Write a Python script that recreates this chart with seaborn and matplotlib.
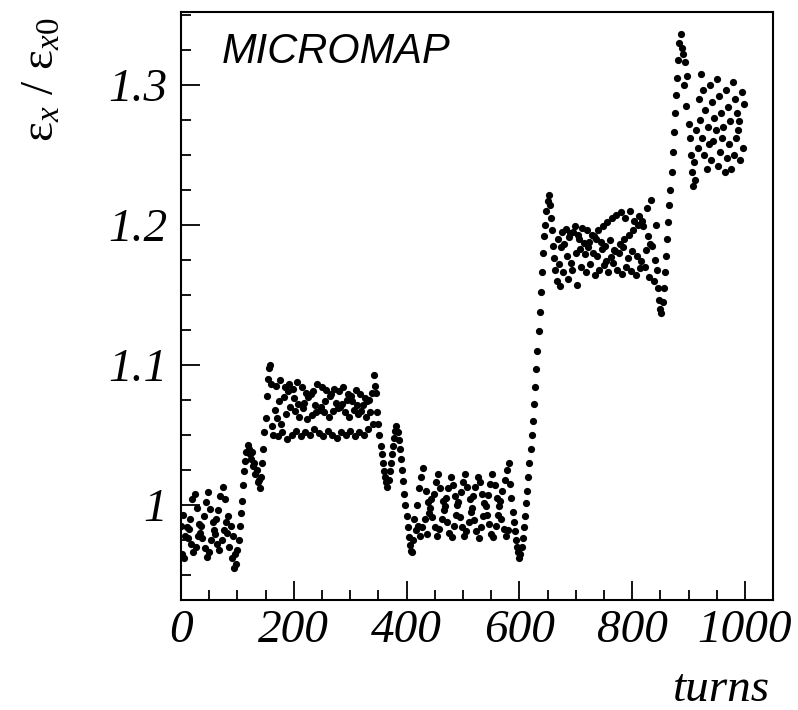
import numpy as np
import pandas as pd
import matplotlib
matplotlib.use("Agg")
import matplotlib.pyplot as plt
import seaborn as sns
from matplotlib.ticker import MultipleLocator, FixedLocator, FuncFormatter

# emittance ratio, one point every 2 turns, split in segments
step = 2
seg_starts = [0, 100, 152, 346, 412, 600, 654, 858]

seg_a = [0.985, 0.965, 0.993, 0.962, 0.978, 0.984, 0.976, 0.983, 0.990, 0.972,
         1.004, 0.966, 1.008, 0.970, 0.998, 0.978, 0.986, 0.980, 0.985, 0.976,
         0.992, 0.969, 1.002, 0.963, 1.009, 0.966, 0.997, 0.975, 0.988, 0.982,
         0.979, 0.990, 0.972, 0.996, 0.968, 1.006, 0.975, 1.013, 0.982, 1.004,
         0.988, 0.980, 0.992, 0.970, 0.985, 0.962, 0.978, 0.955, 0.965, 0.958]

seg_b = [0.968, 0.975, 0.985, 0.994, 1.003, 1.014, 1.024, 1.031, 1.038, 1.043,
         1.040, 1.036, 1.033, 1.038, 1.028, 1.030, 1.022, 1.025, 1.016, 1.018,
         1.012, 1.020, 1.030, 1.040, 1.052, 1.062]

seg_c = [1.078, 1.090, 1.098, 1.100, 1.086, 1.056,
         1.050, 1.068, 1.085, 1.062, 1.049, 1.074, 1.089, 1.058,
         1.052, 1.077, 1.084, 1.065, 1.047, 1.081, 1.086, 1.070,
         1.050, 1.083, 1.076, 1.067, 1.053, 1.088, 1.072, 1.063,
         1.049, 1.084, 1.069, 1.073, 1.052, 1.080, 1.061, 1.077,
         1.050, 1.079, 1.064, 1.081, 1.054, 1.071, 1.066, 1.086,
         1.051, 1.068, 1.070, 1.084, 1.049, 1.066, 1.074, 1.082,
         1.053, 1.063, 1.078, 1.079, 1.050, 1.067, 1.083, 1.073,
         1.048, 1.069, 1.081, 1.070, 1.052, 1.072, 1.084, 1.066,
         1.050, 1.075, 1.079, 1.063, 1.053, 1.078, 1.074, 1.068,
         1.049, 1.082, 1.071, 1.065, 1.052, 1.079, 1.067, 1.071,
         1.050, 1.076, 1.063, 1.074, 1.054, 1.075, 1.066, 1.080,
         1.058, 1.093, 1.085]

seg_d = [1.080, 1.066, 1.058, 1.050, 1.042, 1.036, 1.030, 1.024, 1.020, 1.016,
         1.013, 1.018, 1.024, 1.030, 1.036, 1.042, 1.048, 1.053, 1.056, 1.052,
         1.046, 1.040, 1.033, 1.025, 1.017, 1.008, 1.000, 0.992, 0.984, 0.977,
         0.971, 0.967, 0.966]

seg_e = [0.975, 0.990, 0.982, 1.000, 0.985, 1.012, 0.978, 1.020, 0.984, 1.026,
         0.990, 1.010, 0.979, 1.002, 0.994, 0.998, 1.004, 0.991, 1.008, 0.984,
         1.016, 0.978, 1.022, 0.983, 1.012, 0.990, 1.003, 0.996, 0.999, 1.005,
         0.988, 1.012, 0.980, 1.020, 0.977, 1.014, 0.985, 1.006, 0.993, 1.000,
         1.002, 0.991, 1.009, 0.984, 1.016, 0.978, 1.022, 0.981, 1.013, 0.988,
         1.004, 0.995, 0.998, 1.006, 0.989, 1.013, 0.981, 1.020, 0.976, 1.016,
         0.984, 1.008, 0.992, 1.001, 0.999, 0.993, 1.007, 0.986, 1.015, 0.979,
         1.022, 0.977, 1.014, 0.985, 1.005, 0.993, 0.999, 1.003, 0.990, 1.010,
         0.983, 1.018, 0.978, 1.025, 0.982, 1.030, 1.015, 1.005, 0.995, 0.988,
         0.981, 0.975, 0.970, 0.966]

seg_f = [0.962, 0.965, 0.970, 0.976, 0.984, 0.992, 1.001, 1.010, 1.020, 1.030,
         1.040, 1.050, 1.060, 1.072, 1.084, 1.097, 1.110, 1.124, 1.138, 1.152,
         1.166, 1.180, 1.192, 1.200, 1.210, 1.217, 1.221]

seg_g = [1.214, 1.205, 1.196, 1.185, 1.176, 1.168, 1.160, 1.190, 1.172, 1.156, 1.184, 1.195,
         1.166, 1.186, 1.197, 1.178, 1.161, 1.191, 1.194, 1.173,
         1.168, 1.195, 1.199, 1.180, 1.157, 1.193, 1.190, 1.183,
         1.170, 1.198, 1.187, 1.179, 1.166, 1.196, 1.184, 1.188,
         1.172, 1.193, 1.180, 1.192, 1.164, 1.190, 1.178, 1.196,
         1.168, 1.188, 1.183, 1.199, 1.171, 1.185, 1.174, 1.202,
         1.166, 1.189, 1.177, 1.205, 1.173, 1.182, 1.181, 1.207,
         1.168, 1.180, 1.186, 1.209, 1.165, 1.184, 1.190, 1.205,
         1.170, 1.176, 1.193, 1.210, 1.167, 1.181, 1.196, 1.203,
         1.164, 1.178, 1.200, 1.206, 1.169, 1.174, 1.203, 1.199,
         1.170, 1.182, 1.212, 1.192, 1.163, 1.186, 1.218, 1.185, 1.160, 1.175,
         1.200, 1.168, 1.155, 1.146, 1.140, 1.137, 1.145, 1.155]

seg_h = [1.166, 1.178, 1.190, 1.202, 1.214, 1.225, 1.238, 1.252, 1.266, 1.280,
         1.293, 1.305, 1.318, 1.330, 1.336, 1.326,
         1.322, 1.300, 1.316, 1.285, 1.306, 1.272, 1.262, 1.250, 1.238, 1.228,
         1.245, 1.232, 1.268, 1.255, 1.290, 1.275, 1.308, 1.262, 1.296, 1.250,
         1.282, 1.240, 1.270, 1.258, 1.300, 1.246, 1.288, 1.260, 1.276, 1.268,
         1.304, 1.242, 1.292, 1.252, 1.280, 1.262, 1.270, 1.238, 1.296, 1.248,
         1.284, 1.258, 1.274, 1.240, 1.302, 1.250, 1.290, 1.262, 1.280, 1.268,
         1.274, 1.246, 1.295, 1.255, 1.286]

segments = [seg_a, seg_b, seg_c, seg_d, seg_e, seg_f, seg_g, seg_h]

x_major = [0, 200, 400, 600, 800, 1000]
y_major = [1.0, 1.1, 1.2, 1.3]

frames = []
for start, vals in zip(seg_starts, segments):
    frames.append(pd.DataFrame({"turns": start + step * np.arange(len(vals)),
                                "ratio": vals}))
df = pd.concat(frames, ignore_index=True)

sns.set_style("ticks")
plt.rcParams["font.family"] = ["Liberation Serif", "DejaVu Serif"]
plt.rcParams["mathtext.fontset"] = "custom"
plt.rcParams["mathtext.rm"] = "Liberation Serif"
plt.rcParams["mathtext.it"] = "Liberation Serif:italic"
plt.rcParams["text.color"] = "black"
plt.rcParams["xtick.color"] = "black"
plt.rcParams["ytick.color"] = "black"

fig = plt.figure(figsize=(7.98, 7.10), dpi=100)
ax = fig.add_axes([0.2268, 0.155, 0.742, 0.828])

sns.scatterplot(data=df, x="turns", y="ratio", ax=ax, color="black",
                s=27, linewidth=0, legend=False)

ax.set_xlim(0, 1050)
ax.set_ylim(0.932, 1.352)
ax.xaxis.set_major_locator(FixedLocator(x_major))
ax.xaxis.set_minor_locator(MultipleLocator(50))
ax.yaxis.set_major_locator(FixedLocator(y_major))
ax.yaxis.set_minor_locator(MultipleLocator(0.025))
ax.yaxis.set_major_formatter(FuncFormatter(lambda v, p: f"{v:g}"))

ax.tick_params(which="both", direction="in", top=False, right=False,
               width=1.3, color="black", labelcolor="black")
ax.tick_params(which="major", length=14, labelsize=34)
ax.tick_params(which="minor", length=7)
ax.tick_params(axis="x", which="major", pad=7)
ax.tick_params(axis="y", which="major", pad=10)
for lab in ax.get_xticklabels() + ax.get_yticklabels():
    lab.set_fontstyle("italic")

for sp in ax.spines.values():
    sp.set_linewidth(1.5)
    sp.set_color("black")

ax.set_xlabel("")
ax.set_ylabel("")

ax.text(0.069, 0.932, "MICROMAP", transform=ax.transAxes, color="black",
        family="Liberation Sans", style="italic", fontsize=30, va="center")

fig.text(42 / 798, 1 - 80 / 710, r"ε$_x$ / ε$_{x0}$", rotation=90,
         ha="center", va="center", fontsize=34, color="black")
fig.text(770 / 798, 1 - 690 / 710, "turns", ha="right", va="center",
         fontsize=34, style="italic", color="black")

fig.savefig("out.png", dpi=100)
